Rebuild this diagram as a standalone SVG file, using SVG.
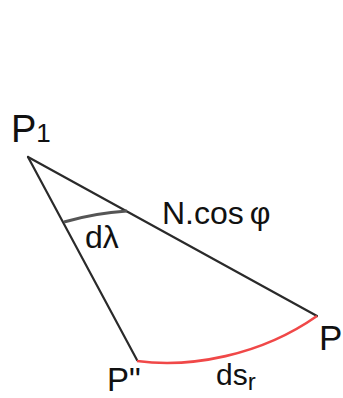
<svg xmlns="http://www.w3.org/2000/svg" width="343" height="398" viewBox="0 0 343 398">
<style>
.ln{fill:none;stroke:#2a2a2a;stroke-width:2.2;stroke-linecap:round}
.lb{font-family:"Liberation Sans",Arial,sans-serif;fill:#111}
</style>
<rect width="343" height="398" fill="#fff"/>
<g id="connectors">
<path class="ln" d="M28,157 L317,316"/>
<path class="ln" d="M28,157 L137,360"/>
<path d="M64,222 Q95,213 127,211" fill="none" stroke="#555" stroke-width="3"/>
<path d="M137,361 C190,368 260,356 317,316" fill="none" stroke="#f04848" stroke-width="2.6"/>
</g>
<g id="P1"><text class="lb" x="11" y="142" font-size="38">P<tspan font-size="26">1</tspan></text></g>
<g id="P"><text class="lb" x="319" y="350" font-size="35">P</text></g>
<g id="P2"><text class="lb" x="107" y="391" font-size="33">P&quot;</text></g>
<g id="Ncos"><text class="lb" x="162" y="224" font-size="32" fill="#222" word-spacing="-3">N.cos φ</text></g>
<g id="dlambda"><text class="lb" x="85" y="248" font-size="32">dλ</text></g>
<g id="dsr"><text class="lb" x="216" y="385" font-size="30">ds<tspan font-size="24" dy="5">r</tspan></text></g>
</svg>
